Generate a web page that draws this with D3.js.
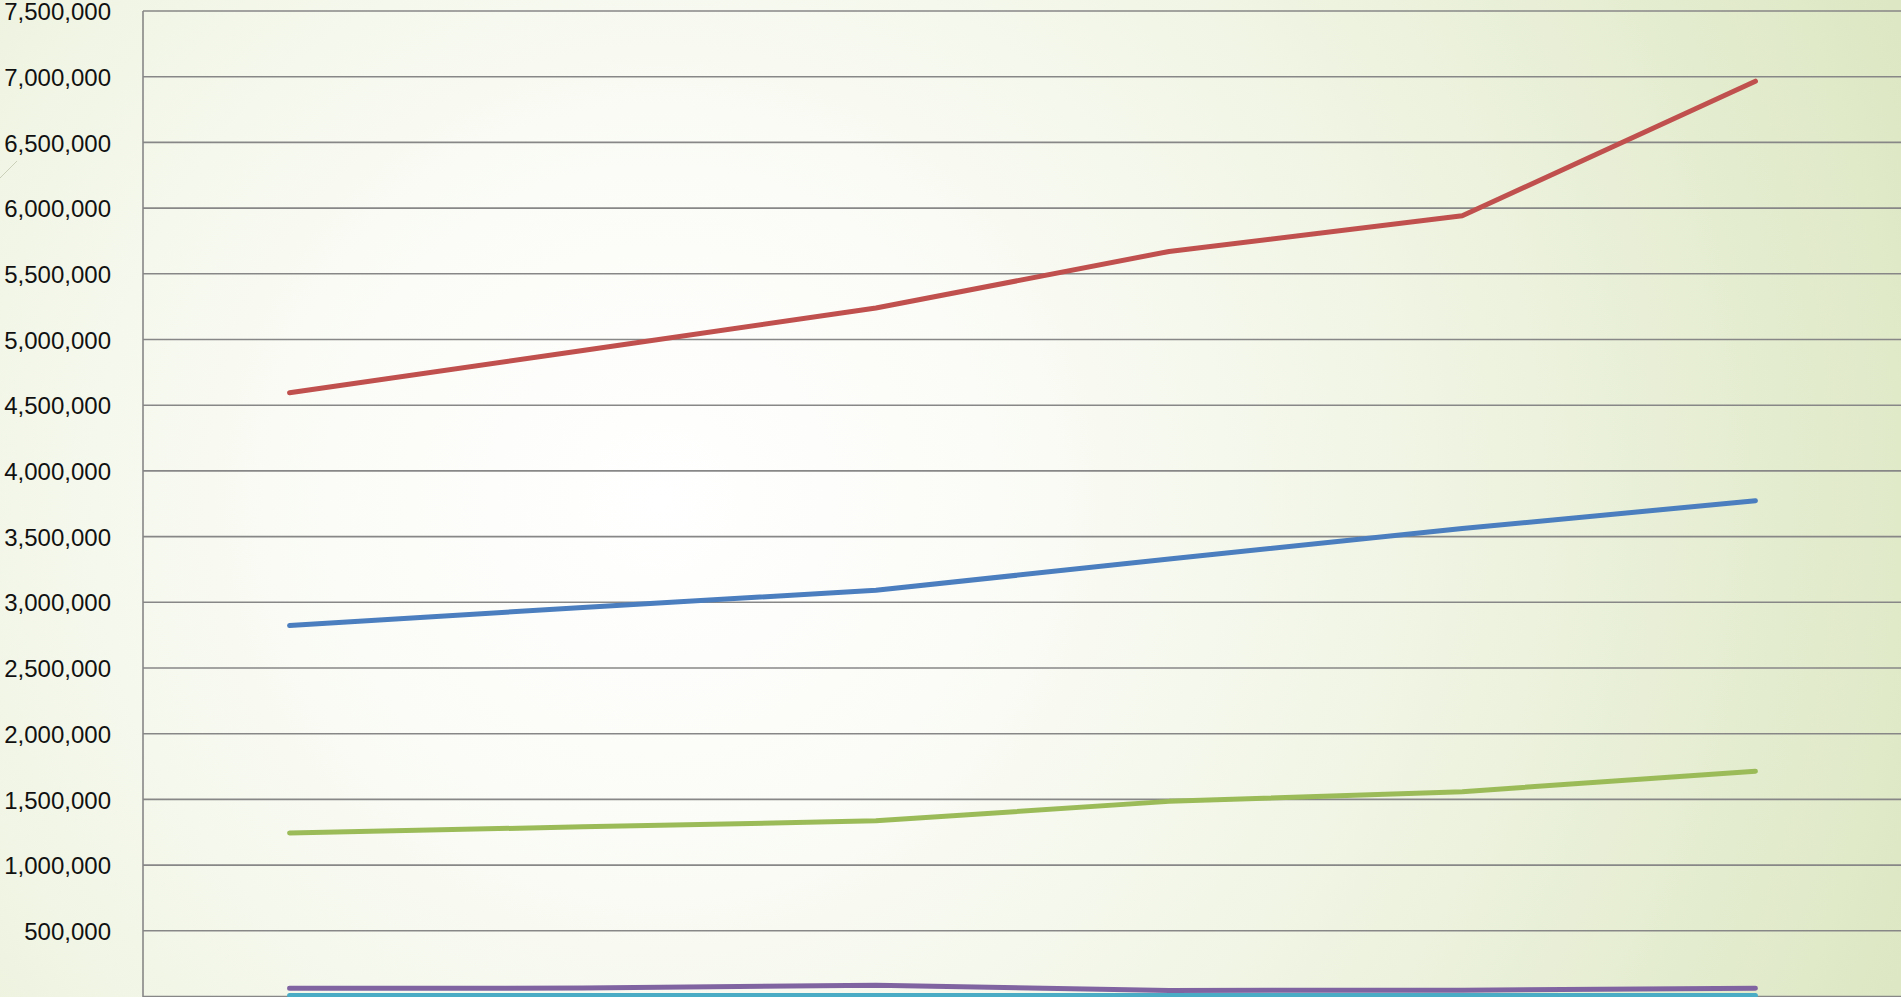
<!DOCTYPE html>
<html>
<head>
<meta charset="utf-8">
<script src="https://cdn.jsdelivr.net/npm/d3@7"></script>
<style>
  html, body { margin: 0; padding: 0; overflow: hidden; background: #eef2e0; }
  svg { display: block; }
  .tick-label { font-family: "Liberation Sans", Arial, sans-serif; font-size: 24px; fill: #111; }
</style>
</head>
<body>
<svg id="chart" width="1901" height="997"></svg>
<script>
// Categories along the x axis (six periods)
const categories = ["1", "2", "3", "4", "5", "6"];

// Series values, one array per line
const seriesRed    = [4594000, 4917000, 5240000, 5670000, 5941000, 6966000];
const seriesBlue   = [2823000, 2961000, 3091000, 3330000, 3561000, 3773000];
const seriesGreen  = [1245000, 1291000, 1337000, 1485000, 1559000, 1715000];
const seriesPurple = [62000, 64000, 86000, 46000, 48000, 62000];
const seriesCyan   = [8000, 8000, 8000, 8000, 8000, 8000];

// Value-axis ticks
const yTicks = [0, 500000, 1000000, 1500000, 2000000, 2500000, 3000000, 3500000,
                4000000, 4500000, 5000000, 5500000, 6000000, 6500000, 7000000, 7500000];

const W = 1901, H = 997;
const plot = { left: 143, right: 1902, top: 11, bottom: 996.5 };

const svg = d3.select("#chart");

// Background: soft radial wash from white to pale green
const defs = svg.append("defs");
const grad = defs.append("radialGradient")
  .attr("id", "bg")
  .attr("gradientUnits", "userSpaceOnUse")
  .attr("cx", 660).attr("cy", 500).attr("r", 1330);
grad.append("stop").attr("offset", "0%").attr("stop-color", "#ffffff");
grad.append("stop").attr("offset", "25%").attr("stop-color", "#fbfcf7");
grad.append("stop").attr("offset", "60%").attr("stop-color", "#eff4e2");
grad.append("stop").attr("offset", "100%").attr("stop-color", "#dde7c3");
svg.append("rect").attr("width", W).attr("height", H).attr("fill", "url(#bg)");

// faint decorative stroke at the left edge
svg.append("line")
  .attr("x1", 0).attr("y1", 178).attr("x2", 17).attr("y2", 161)
  .attr("stroke", "#c9d1b8").attr("stroke-width", 1);

const x = d3.scaleBand().domain(categories).range([plot.left, plot.right]);
const y = d3.scaleLinear().domain([0, 7500000]).range([plot.bottom, plot.top]);

// Horizontal gridlines
svg.append("g")
  .selectAll("line")
  .data(yTicks)
  .join("line")
  .attr("x1", plot.left).attr("x2", W)
  .attr("y1", d => y(d)).attr("y2", d => y(d))
  .attr("stroke", "#878787").attr("stroke-width", 1.6);

// Value axis with labels
const yAxis = d3.axisLeft(y)
  .tickValues(yTicks.filter(d => d > 0))
  .tickFormat(d3.format(","))
  .tickSize(0)
  .tickPadding(32);
const gAxis = svg.append("g").attr("transform", `translate(${plot.left},0)`).call(yAxis);
gAxis.select(".domain").remove();
gAxis.selectAll("text").attr("class", "tick-label").attr("fill", "#111").attr("dy", "0.36em");

svg.append("line")
  .attr("x1", plot.left).attr("x2", plot.left)
  .attr("y1", plot.top).attr("y2", H)
  .attr("stroke", "#878787").attr("stroke-width", 1.6);

// Lines
const series = [
  { values: seriesBlue,   color: "#4a7ebe" },
  { values: seriesRed,    color: "#c0504d" },
  { values: seriesGreen,  color: "#9bbb59" },
  { values: seriesPurple, color: "#8064a2" },
  { values: seriesCyan,   color: "#4bacc6" }
];

const line = d3.line()
  .x((d, i) => x(categories[i]) + x.bandwidth() / 2)
  .y(d => y(d));

svg.append("g")
  .selectAll("path")
  .data(series)
  .join("path")
  .attr("d", s => line(s.values))
  .attr("fill", "none")
  .attr("stroke", s => s.color)
  .attr("stroke-width", 5)
  .attr("stroke-linecap", "round")
  .attr("stroke-linejoin", "round");
</script>
</body>
</html>
